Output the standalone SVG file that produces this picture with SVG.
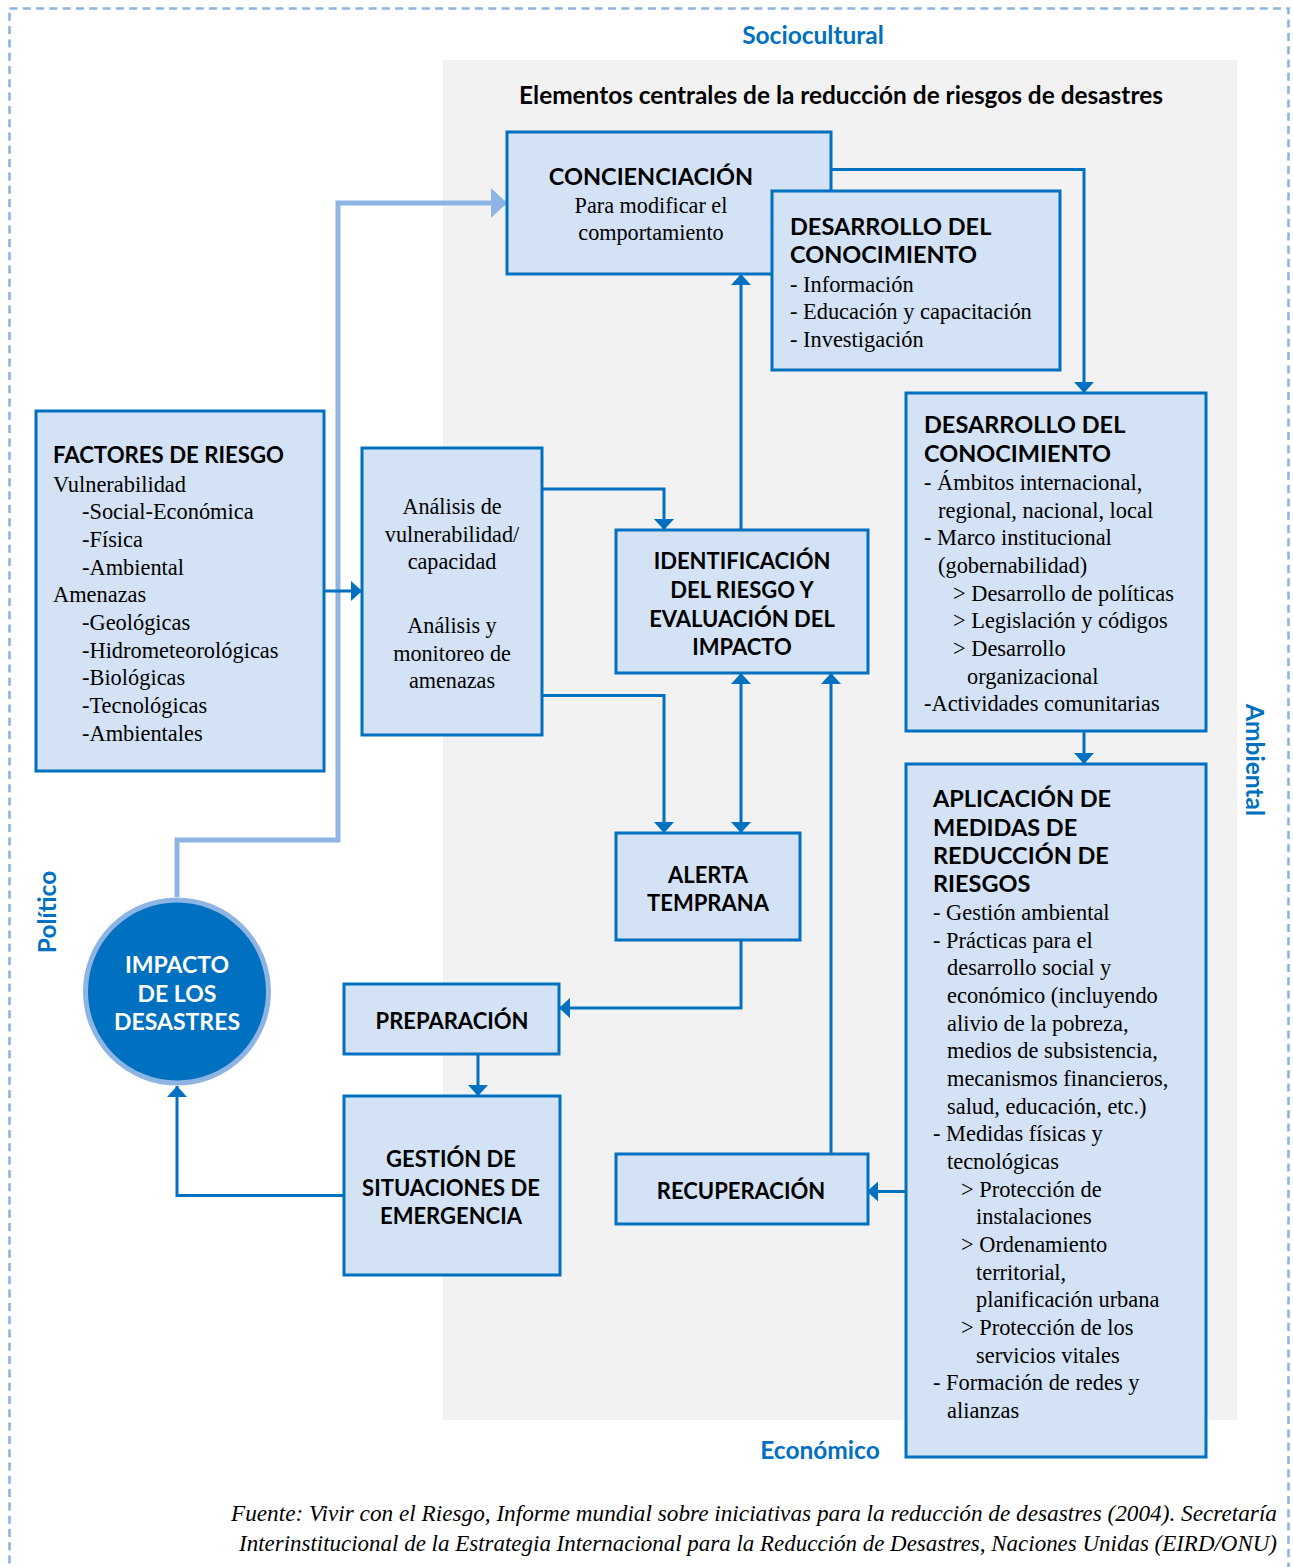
<svg xmlns="http://www.w3.org/2000/svg" width="1293" height="1567" viewBox="0 0 1293 1567">
  <style>
    .box { fill: #d3e2f4; stroke: #0070c0; stroke-width: 3; }
    .hd { font-family: Lato, "Open Sans", "Liberation Sans", sans-serif; font-weight: bold; font-size: 23.5px; fill: #000; }
    .hdc { font-family: Lato, "Open Sans", "Liberation Sans", sans-serif; font-weight: bold; font-size: 22px; fill: #000; text-anchor: middle; }
    .big { font-size: 23.5px; }
    .tx { font-family: "Liberation Serif", "Times New Roman", serif; font-size: 22.4px; fill: #000; }
    .txc { font-family: "Liberation Serif", "Times New Roman", serif; font-size: 22.2px; fill: #000; text-anchor: middle; }
    .side { font-family: Lato, "Open Sans", "Liberation Sans", sans-serif; font-weight: bold; font-size: 24.5px; fill: #0070c0; text-anchor: middle; }
    .con { fill: none; stroke: #0070c0; stroke-width: 3; }
    .conl { fill: none; stroke: #8db4e2; stroke-width: 5; }
    .foot { font-family: "Liberation Serif", "Times New Roman", serif; font-style: italic; font-size: 23px; fill: #000; text-anchor: end; }
  </style>
  <defs>
    <marker id="arr" markerUnits="userSpaceOnUse" viewBox="0 0 11 20" refX="11" refY="10" markerWidth="11" markerHeight="20" orient="auto-start-reverse">
      <path d="M0,0 L11,10 L0,20 z" fill="#0070c0"/>
    </marker>
    <marker id="arrl" markerUnits="userSpaceOnUse" viewBox="0 0 16 30" refX="16" refY="15" markerWidth="16" markerHeight="30" orient="auto">
      <path d="M0,0 L16,15 L0,30 z" fill="#8db4e2"/>
    </marker>
  </defs>

  <rect width="1293" height="1567" fill="#ffffff"/>

  <!-- outer dashed frame -->
  <rect x="9.5" y="8.5" width="1279" height="1580" fill="none" stroke="#8db4e2" stroke-width="2.6" stroke-dasharray="8 5.3"/>

  <!-- grey core panel -->
  <rect x="443" y="60" width="794" height="1360" fill="#f2f2f2"/>

  <!-- context labels -->
  <text class="side" x="813" y="44">Sociocultural</text>
  <text class="side" x="820" y="1459">Económico</text>
  <text class="side" transform="translate(1246,760) rotate(90)">Ambiental</text>
  <text class="side" transform="translate(56,912) rotate(-90)">Político</text>

  <text class="hdc" x="841" y="104" style="font-size:24.4px">Elementos centrales de la reducción de riesgos de desastres</text>

  <!-- connectors -->
  <g id="connectors">
    <path class="conl" d="M177,897 V840 H338 V203 H507" marker-end="url(#arrl)"/>
    <path class="con" d="M831,169.5 H1084 V393" marker-end="url(#arr)"/>
    <path class="con" d="M1084,731 V764" marker-end="url(#arr)"/>
    <path class="con" d="M324,591 H362" marker-end="url(#arr)"/>
    <path class="con" d="M541,489 H664 V530" marker-end="url(#arr)"/>
    <path class="con" d="M541,695.5 H664 V833" marker-end="url(#arr)"/>
    <path class="con" d="M741,530 V274" marker-end="url(#arr)"/>
    <path class="con" d="M741,673 V833" marker-start="url(#arr)" marker-end="url(#arr)"/>
    <path class="con" d="M741,940 V1008 H559" marker-end="url(#arr)"/>
    <path class="con" d="M478,1054 V1096" marker-end="url(#arr)"/>
    <path class="con" d="M344,1195.5 H177 V1086" marker-end="url(#arr)"/>
    <path class="con" d="M831,1154 V673" marker-end="url(#arr)"/>
    <path class="con" d="M906,1191.5 H867" marker-end="url(#arr)"/>
  </g>

  <g id="concienciacion">
    <rect class="box" x="507" y="132" width="324" height="142"/>
    <text class="hdc big" x="651" y="185">CONCIENCIACIÓN</text>
    <text class="txc" x="651" y="213">Para modificar el</text>
    <text class="txc" x="651" y="240">comportamiento</text>
  </g>

  <g id="desarrollo-conocimiento-1">
    <rect class="box" x="772" y="191" width="288" height="179"/>
    <text class="hd" x="790" y="235">DESARROLLO DEL</text>
    <text class="hd" x="790" y="263">CONOCIMIENTO</text>
    <text class="tx" x="790" y="291.5">- Información</text>
    <text class="tx" x="790" y="319">- Educación y capacitación</text>
    <text class="tx" x="790" y="346.5">- Investigación</text>
  </g>

  <g id="desarrollo-conocimiento-2">
    <rect class="box" x="906" y="393" width="300" height="338"/>
    <text class="hd" x="924" y="433">DESARROLLO DEL</text>
    <text class="hd" x="924" y="461.5">CONOCIMIENTO</text>
    <text class="tx" x="924" y="490">- Ámbitos internacional,</text>
    <text class="tx" x="938" y="517.5">regional, nacional, local</text>
    <text class="tx" x="924" y="545">- Marco institucional</text>
    <text class="tx" x="938" y="573">(gobernabilidad)</text>
    <text class="tx" x="953" y="600.5">&gt; Desarrollo de políticas</text>
    <text class="tx" x="953" y="628">&gt; Legislación y códigos</text>
    <text class="tx" x="953" y="656">&gt; Desarrollo</text>
    <text class="tx" x="967" y="683.5">organizacional</text>
    <text class="tx" x="924" y="711">-Actividades comunitarias</text>
  </g>

  <g id="factores-riesgo">
    <rect class="box" x="36" y="411" width="288" height="360"/>
    <text class="hd" x="53" y="463" style="font-size:22.2px">FACTORES DE RIESGO</text>
    <text class="tx" x="53" y="491.5">Vulnerabilidad</text>
    <text class="tx" x="82" y="519">-Social-Económica</text>
    <text class="tx" x="82" y="546.5">-Física</text>
    <text class="tx" x="82" y="574.5">-Ambiental</text>
    <text class="tx" x="53" y="602">Amenazas</text>
    <text class="tx" x="82" y="630">-Geológicas</text>
    <text class="tx" x="82" y="657.5">-Hidrometeorológicas</text>
    <text class="tx" x="82" y="685">-Biológicas</text>
    <text class="tx" x="82" y="713">-Tecnológicas</text>
    <text class="tx" x="82" y="740.5">-Ambientales</text>
  </g>

  <g id="analisis">
    <rect class="box" x="362" y="448" width="180" height="287"/>
    <text class="txc" x="452" y="514">Análisis de</text>
    <text class="txc" x="452" y="541.5">vulnerabilidad/</text>
    <text class="txc" x="452" y="569">capacidad</text>
    <text class="txc" x="452" y="633">Análisis y</text>
    <text class="txc" x="452" y="660.5">monitoreo de</text>
    <text class="txc" x="452" y="688">amenazas</text>
  </g>

  <g id="identificacion">
    <rect class="box" x="616" y="530" width="252" height="143"/>
    <text class="hdc" x="742" y="569">IDENTIFICACIÓN</text>
    <text class="hdc" x="742" y="598">DEL RIESGO Y</text>
    <text class="hdc" x="742" y="626.5">EVALUACIÓN DEL</text>
    <text class="hdc" x="742" y="655">IMPACTO</text>
  </g>

  <g id="alerta-temprana">
    <rect class="box" x="616" y="833" width="184" height="107"/>
    <text class="hdc" x="708" y="882.5">ALERTA</text>
    <text class="hdc" x="708" y="911">TEMPRANA</text>
  </g>

  <g id="preparacion">
    <rect class="box" x="344" y="984" width="215" height="70"/>
    <text class="hdc" x="452" y="1029">PREPARACIÓN</text>
  </g>

  <g id="gestion-emergencia">
    <rect class="box" x="344" y="1096" width="216" height="179"/>
    <text class="hdc" x="451" y="1167">GESTIÓN DE</text>
    <text class="hdc" x="451" y="1195.5">SITUACIONES DE</text>
    <text class="hdc" x="451" y="1223.5">EMERGENCIA</text>
  </g>

  <g id="recuperacion">
    <rect class="box" x="616" y="1154" width="252" height="70"/>
    <text class="hdc" x="741" y="1199">RECUPERACIÓN</text>
  </g>

  <g id="impacto-desastres">
    <circle cx="177" cy="991.5" r="91.5" fill="#0070c0" stroke="#8db4e2" stroke-width="5"/>
    <text class="hdc" x="177" y="973" style="fill:#ffffff;font-size:23px">IMPACTO</text>
    <text class="hdc" x="177" y="1001.5" style="fill:#ffffff;font-size:23px">DE LOS</text>
    <text class="hdc" x="177" y="1030" style="fill:#ffffff;font-size:23px">DESASTRES</text>
  </g>

  <g id="aplicacion-medidas">
    <rect class="box" x="906" y="764" width="300" height="693"/>
    <text class="hd" x="933" y="807">APLICACIÓN DE</text>
    <text class="hd" x="933" y="835.5">MEDIDAS DE</text>
    <text class="hd" x="933" y="863.5">REDUCCIÓN DE</text>
    <text class="hd" x="933" y="891.5">RIESGOS</text>
    <text class="tx" x="933" y="920">- Gestión ambiental</text>
    <text class="tx" x="933" y="947.5">- Prácticas para el</text>
    <text class="tx" x="947" y="975">desarrollo social y</text>
    <text class="tx" x="947" y="1003">económico (incluyendo</text>
    <text class="tx" x="947" y="1030.5">alivio de la pobreza,</text>
    <text class="tx" x="947" y="1058">medios de subsistencia,</text>
    <text class="tx" x="947" y="1086">mecanismos financieros,</text>
    <text class="tx" x="947" y="1113.5">salud, educación, etc.)</text>
    <text class="tx" x="933" y="1141">- Medidas físicas y</text>
    <text class="tx" x="947" y="1169">tecnológicas</text>
    <text class="tx" x="961" y="1196.5">&gt; Protección de</text>
    <text class="tx" x="976" y="1224">instalaciones</text>
    <text class="tx" x="961" y="1252">&gt; Ordenamiento</text>
    <text class="tx" x="976" y="1279.5">territorial,</text>
    <text class="tx" x="976" y="1307">planificación urbana</text>
    <text class="tx" x="961" y="1335">&gt; Protección de los</text>
    <text class="tx" x="976" y="1362.5">servicios vitales</text>
    <text class="tx" x="933" y="1390">- Formación de redes y</text>
    <text class="tx" x="947" y="1418">alianzas</text>
  </g>

  <!-- source note -->
  <text class="foot" x="1277" y="1521" textLength="1046" lengthAdjust="spacingAndGlyphs">Fuente: Vivir con el Riesgo, Informe mundial sobre iniciativas para la reducción de desastres (2004). Secretaría</text>
  <text class="foot" x="1277" y="1551" textLength="1038" lengthAdjust="spacingAndGlyphs">Interinstitucional de la Estrategia Internacional para la Reducción de Desastres, Naciones Unidas (EIRD/ONU)</text>
</svg>
